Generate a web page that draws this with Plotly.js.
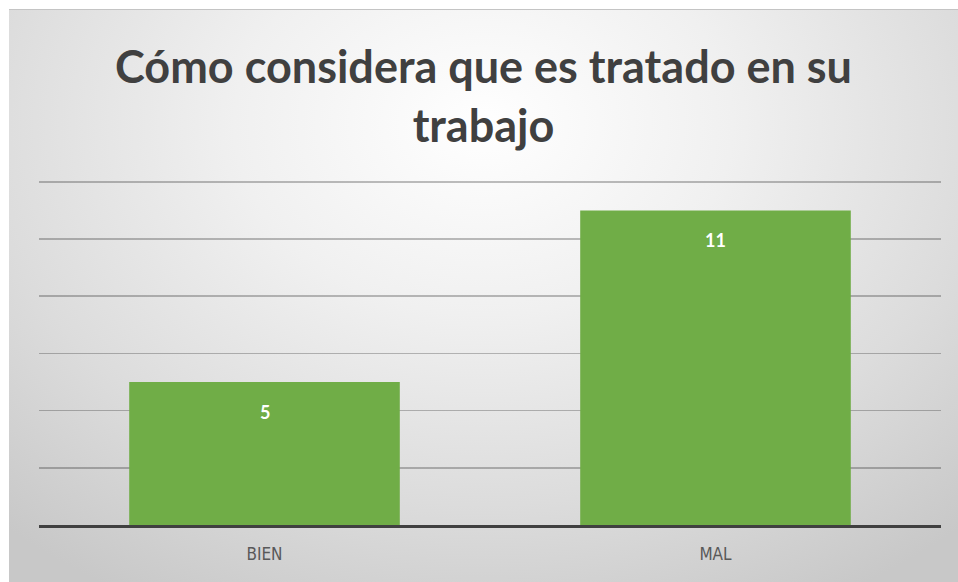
<!DOCTYPE html>
<html>
<head>
<meta charset="utf-8">
<script src="https://cdn.plot.ly/plotly-3.0.1.min.js"></script>
<style>
html,body{margin:0;padding:0;background:#ffffff;width:958px;height:582px;overflow:hidden;}
#chart{position:absolute;left:9px;top:9px;width:949px;height:573px;
background:radial-gradient(ellipse 75% 95% at 50% 20%, #ffffff 0%, #f0f0f0 35%, #dcdcdc 70%, #c8c8c8 100%);
border-top:1px solid #c4c4c4;box-sizing:border-box;}
</style>
</head>
<body>
<div id="chart"></div>
<script>
const titleText = "Cómo considera que es tratado en su<br>trabajo";
const categories = ["BIEN", "MAL"];
const values = [5, 11];
const yTicks = [0, 2, 4, 6, 8, 10, 12];

const trace = {
  type: "bar",
  x: categories,
  y: values,
  marker: {color: "#70ad47"},
  hoverinfo: "none"
};

const annotations = categories.map((c, i) => ({
  x: c, y: values[i], xref: "x", yref: "y",
  text: "<b>" + values[i] + "</b>",
  showarrow: false, yanchor: "top", yshift: -17,
  font: {family: "Lato, 'Open Sans', sans-serif", size: 18, color: "#ffffff"}
}));

const layout = {
  width: 949, height: 573,
  paper_bgcolor: "rgba(0,0,0,0)",
  plot_bgcolor: "rgba(0,0,0,0)",
  margin: {l: 30, r: 17, t: 169, b: 58},
  showlegend: false,
  bargap: 0.4,
  title: {
    text: "<b>" + titleText + "</b>",
    font: {family: "Lato, 'Open Sans', sans-serif", size: 45, color: "#404040"},
    x: 0.5, xanchor: "center", xref: "container",
    y: 0.872, yanchor: "middle", yref: "container"
  },
  xaxis: {
    type: "category",
    showgrid: false,
    showline: true, linecolor: "#404040", linewidth: 3,
    ticks: "", zeroline: false,
    ticklabelstandoff: 12,
    tickfont: {family: "'Liberation Sans Narrow', 'DejaVu Sans Condensed', sans-serif", size: 17, color: "#595959"}
  },
  yaxis: {
    range: [0, 12.1],
    tickvals: yTicks,
    showticklabels: false,
    showgrid: true, gridcolor: "rgba(0,0,0,0.25)", gridwidth: 1.5,
    zeroline: false, showline: false, ticks: ""
  },
  annotations: annotations
};

Plotly.newPlot("chart", [trace], layout, {displayModeBar: false, staticPlot: true});
</script>
</body>
</html>
